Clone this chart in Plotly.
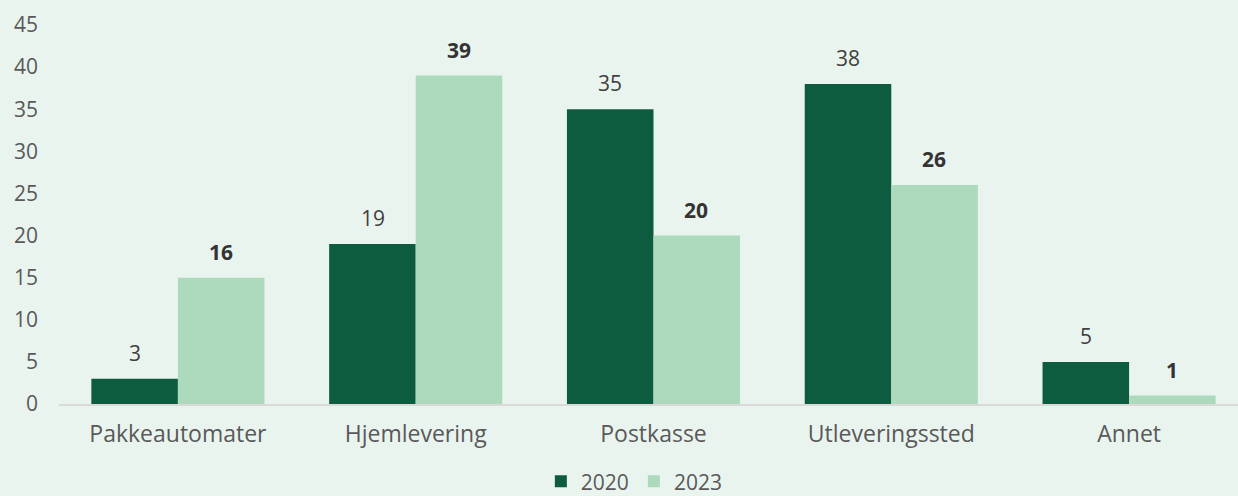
import plotly.graph_objects as go

categories = ["Pakkeautomater", "Hjemlevering", "Postkasse", "Utleveringssted", "Annet"]
values_2020 = [3, 19, 35, 38, 5]
values_2023 = [15, 39, 20, 26, 1]
labels_2020 = ["3", "19", "35", "38", "5"]
labels_2023 = ["16", "39", "20", "26", "1"]
y_ticks = [0, 5, 10, 15, 20, 25, 30, 35, 40, 45]

BG = "#EAF4EF"
DARK = "#0E5C40"
LIGHT = "#ADDABD"
TXT = "#595959"
FONT = "Open Sans"

fig = go.Figure()
fig.add_trace(go.Bar(name="2020", x=categories, y=values_2020, marker_color=DARK, marker_line_width=0))
fig.add_trace(go.Bar(name="2023", x=categories, y=values_2023, marker_color=LIGHT, marker_line_width=0))

annotations = []
for c, v, t in zip(categories, values_2020, labels_2020):
    annotations.append(dict(x=c, y=v, xref="x", yref="y", text=t, showarrow=False,
                            xshift=-43, yshift=10, yanchor="bottom",
                            font=dict(family=FONT, size=21, color="#404040")))
for c, v, t in zip(categories, values_2023, labels_2023):
    annotations.append(dict(x=c, y=v, xref="x", yref="y", text="<b>" + t + "</b>", showarrow=False,
                            xshift=43, yshift=10, yanchor="bottom",
                            font=dict(family=FONT, size=21, color="#333333")))

fig.update_layout(
    width=1238, height=496,
    margin=dict(l=59, r=0, t=25, b=92, autoexpand=False),
    paper_bgcolor=BG, plot_bgcolor=BG,
    barmode="group", bargap=0.272, bargroupgap=0,
    font=dict(family=FONT, size=22, color=TXT),
    showlegend=True,
    legend=dict(orientation="h", x=0.488, xanchor="center", yref="paper", y=-0.205, yanchor="middle",
                font=dict(family=FONT, size=21, color=TXT), itemwidth=30,
                bgcolor="rgba(0,0,0,0)"),
    annotations=annotations,
    xaxis=dict(range=[-0.5, 4.458], showline=True, linecolor="#D9D9D9", linewidth=2, ticks="", showgrid=False,
               ticklabelstandoff=8,
               tickfont=dict(family=FONT, size=23, color=TXT)),
    yaxis=dict(range=[0, 45], tickvals=y_ticks, showgrid=False, zeroline=False, showline=False,
               ticks="", ticklabelstandoff=20,
               tickfont=dict(family=FONT, size=21, color=TXT)),
)

fig.write_html("out.html")
